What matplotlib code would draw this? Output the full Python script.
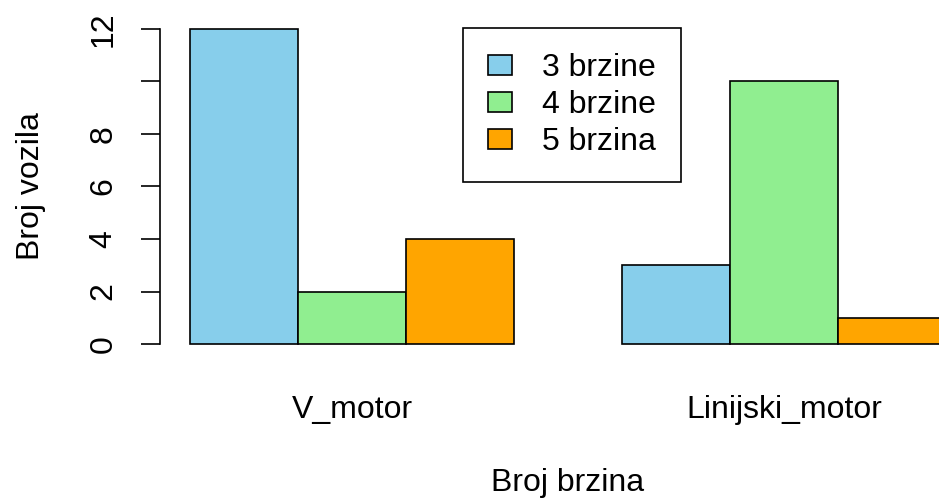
import numpy as np
import matplotlib
matplotlib.use('Agg')
from matplotlib import pyplot as plt
from matplotlib.patches import Patch

plt.rcParams['font.family'] = ['Liberation Sans', 'DejaVu Sans']

# data
groups = ['V_motor', 'Linijski_motor']
series = ['3 brzine', '4 brzine', '5 brzina']
counts = [[12, 3],   # 3 brzine
          [2, 10],   # 4 brzine
          [4, 1]]    # 5 brzina
colors = ['#87CEEB', '#90EE90', '#FFA500']
yticks = [0, 2, 4, 6, 8, 10, 12]
ytick_labels = ['0', '2', '4', '6', '8', '', '12']

W, H = 939, 498
fig = plt.figure(figsize=(W / 100, H / 100), dpi=100)
# plot region like R's barplot; the right side runs past the image edge
x0, x1 = 160, 976
y_top, y_bot = 16.4, 356.6
ax = fig.add_axes([x0 / W, (H - y_bot) / H, (x1 - x0) / W, (y_bot - y_top) / H])
ax.set_xlim(0.72, 8.28)
ax.set_ylim(-0.48, 12.48)

fs = 23
nser = len(series)
for j, (name, vals) in enumerate(zip(series, counts)):
    xs = [1 + g * (nser + 1) + j + 0.5 for g in range(len(groups))]
    ax.bar(xs, vals, width=1.0, color=colors[j], edgecolor='black', linewidth=1.2, label=name)

centers = [1 + g * (nser + 1) + nser / 2 for g in range(len(groups))]
ax.set_xticks(centers)
ax.set_xticklabels(groups, fontsize=fs)
ax.tick_params(axis='x', length=0, pad=28)

ax.set_yticks(yticks)
ax.set_yticklabels(ytick_labels, fontsize=fs, rotation=90, va='center')
ax.tick_params(axis='y', length=13.7, width=1.2, pad=16)

for s in ['top', 'right', 'bottom']:
    ax.spines[s].set_visible(False)
ax.spines['left'].set_bounds(0, 12)
ax.spines['left'].set_linewidth(1.2)

ax.set_xlabel('Broj brzina', fontsize=fs, labelpad=30.5)
ax.set_ylabel('Broj vozila', fontsize=fs, labelpad=31)

handles = [Patch(facecolor=c, edgecolor='black', linewidth=1.2) for c in colors]
leg = fig.legend(handles, series, loc='upper left',
                 bbox_to_anchor=(463 / W, 1 - 28 / H), fontsize=fs,
                 fancybox=False, framealpha=1, edgecolor='black',
                 handlelength=0.75, handleheight=0.6, handletextpad=0.95,
                 labelspacing=0.22, borderpad=0.78, borderaxespad=0)
leg.get_frame().set_linewidth(1.2)

fig.savefig('out.png', dpi=100)
